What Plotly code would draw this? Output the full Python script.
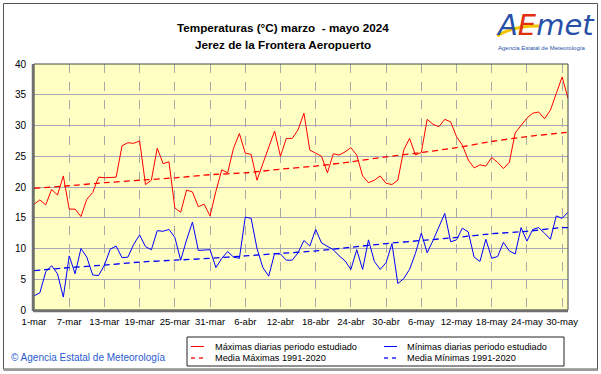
import pandas as pd
import plotly.graph_objects as go

# ---------------- data ----------------
dates = pd.date_range("2024-03-01", "2024-05-31", freq="D")

tmax = [17.2, 17.9, 17.1, 19.6, 18.7, 21.8, 16.4, 16.4, 15.2, 18.0,
        19.1, 21.6, 21.5, 21.5, 21.6, 26.7, 27.2, 27.1, 27.5, 20.4,
        21.1, 26.3, 23.8, 24.1, 16.6, 15.9, 19.5, 19.2, 16.8, 17.2,
        15.3, 19.3, 22.8, 22.3, 26.3, 28.7, 25.5, 25.3, 21.1, 23.8,
        26.6, 29.1, 25.0, 27.9, 27.9, 29.3, 32.0, 26.0, 25.5, 25.0,
        22.3, 25.4, 25.2, 25.7, 26.4, 25.2, 21.8, 20.7, 21.1, 21.8,
        20.6, 20.4, 21.1, 26.0, 27.9, 25.2, 25.6, 31.0, 30.2, 29.8,
        31.0, 30.6, 28.2, 26.8, 24.4, 23.1, 23.6, 23.4, 24.8, 24.0,
        23.0, 24.0, 28.8, 30.1, 31.2, 32.0, 32.2, 31.1, 32.5, 35.2,
        37.9, 34.4]

tmin = [2.3, 2.8, 6.2, 7.2, 5.9, 2.1, 8.8, 5.9, 10.0, 8.6,
        5.7, 5.6, 7.3, 9.9, 10.4, 8.5, 8.6, 10.7, 12.2, 10.3,
        9.8, 12.9, 12.8, 13.1, 11.8, 8.1, 11.4, 14.3, 9.7, 9.8,
        9.8, 6.9, 8.4, 9.5, 8.6, 8.4, 15.1, 14.9, 10.0, 6.9,
        5.5, 9.2, 9.1, 8.1, 8.1, 9.3, 11.3, 10.4, 13.1, 10.9,
        10.4, 9.8, 8.8, 8.0, 6.6, 9.8, 6.6, 11.4, 7.9, 6.6,
        7.7, 10.8, 4.3, 5.1, 6.6, 9.2, 12.5, 9.3, 11.3, 13.6,
        15.7, 11.1, 11.4, 13.3, 12.7, 8.6, 7.9, 11.5, 8.4, 8.7,
        11.0, 9.6, 9.1, 13.4, 11.2, 13.1, 13.4, 12.5, 11.5, 15.3,
        14.9, 15.9]

# climatological normals 1991-2020 read at the tick days
normal_days = ["2024-03-01", "2024-03-07", "2024-03-13", "2024-03-19", "2024-03-25",
               "2024-03-31", "2024-04-06", "2024-04-12", "2024-04-18", "2024-04-24",
               "2024-04-30", "2024-05-06", "2024-05-12", "2024-05-18", "2024-05-24",
               "2024-05-30", "2024-05-31"]
normal_max = [19.8, 20.2, 20.7, 21.1, 21.5, 22.0, 22.3, 22.9, 23.4, 24.1,
              24.9, 25.6, 26.4, 27.4, 28.2, 28.8, 28.9]
normal_min = [6.4, 6.9, 7.3, 7.8, 8.1, 8.4, 8.8, 9.2, 9.6, 10.2,
              10.8, 11.3, 11.8, 12.4, 12.8, 13.4, 13.4]

tick_vals = normal_days[:-1]
tick_text = ["1-mar", "7-mar", "13-mar", "19-mar", "25-mar", "31-mar", "6-abr",
             "12-abr", "18-abr", "24-abr", "30-abr", "6-may", "12-may", "18-may",
             "24-may", "30-may"]

series_names = ["Máximas diarias periodo estudiado", "Mínimas diarias periodo estudiado",
                "Media Máximas 1991-2020", "Media Mínimas 1991-2020"]

# ---------------- figure ----------------
RED = "#ff0000"
BLUE = "#0000ff"
FONT = "Liberation Sans, Arial, sans-serif"
DASH = "6px,4px"

fig = go.Figure()
fig.add_trace(go.Scatter(x=dates, y=tmax, mode="lines", name=series_names[0],
                         line=dict(color=RED, width=1)))
fig.add_trace(go.Scatter(x=dates, y=tmin, mode="lines", name=series_names[1],
                         line=dict(color=BLUE, width=1)))
fig.add_trace(go.Scatter(x=pd.to_datetime(normal_days), y=normal_max, mode="lines",
                         name=series_names[2],
                         line=dict(color=RED, width=1.3, dash=DASH, shape="spline", smoothing=0.6)))
fig.add_trace(go.Scatter(x=pd.to_datetime(normal_days), y=normal_min, mode="lines",
                         name=series_names[3],
                         line=dict(color=BLUE, width=1.3, dash=DASH, shape="spline", smoothing=0.6)))

L, R, T, B = 34, 568, 64, 310
W, H = 601, 374


def px(x):
    return (x - L) / (R - L)


def py(y):
    return (B - y) / (B - T)


fig.update_layout(
    width=W, height=H,
    margin=dict(l=L, r=W - R, t=T, b=H - B, pad=0),
    paper_bgcolor="white",
    plot_bgcolor="#ffffc4",
    font=dict(family=FONT, size=10, color="black"),
    showlegend=False,
    hovermode=False,
    xaxis=dict(
        range=["2024-03-01", "2024-05-31"], automargin=False,
        tickmode="array", tickvals=tick_vals, ticktext=tick_text, tickangle=0,
        showgrid=True, gridcolor="#a8a8a8", griddash="dash", gridwidth=1,
        ticks="outside", ticklen=3, tickcolor="rgba(0,0,0,0)",
        tickfont=dict(family=FONT, size=9.5, color="black"),
        showline=False, zeroline=False,
    ),
    yaxis=dict(
        range=[0, 40], tickmode="linear", tick0=0, dtick=5, automargin=False,
        showgrid=True, gridcolor="#a8a8b8", gridwidth=1,
        ticks="outside", ticklen=5, tickcolor="rgba(0,0,0,0)",
        tickfont=dict(family=FONT, size=10, color="black"),
        showline=False, zeroline=False,
    ),
)

shapes = [
    # outer frame
    dict(type="rect", xref="paper", yref="paper", x0=px(3.5), x1=px(597.5), y0=py(369), y1=py(3.5),
         line=dict(color="#555555", width=1), layer="below"),
    dict(type="line", xref="paper", yref="paper", x0=px(3.5), x1=px(598), y0=py(370), y1=py(370),
         line=dict(color="#9a9a9a", width=2)),
    # plot frame
    dict(type="rect", xref="paper", yref="paper", x0=0, x1=1, y0=0, y1=1,
         line=dict(color="#3a4a3a", width=1)),
    dict(type="line", xref="paper", yref="paper", x0=px(33), x1=px(33), y0=py(311), y1=1,
         line=dict(color="#707070", width=2.5)),
    dict(type="line", xref="paper", yref="paper", x0=px(33), x1=1, y0=py(311), y1=py(311),
         line=dict(color="#707070", width=2.5)),
    # logo swoosh
    dict(type="path", xref="paper", yref="paper",
         path=f"M {px(497)},{py(36)} Q {px(515)},{py(25)} {px(540)},{py(26)}",
         line=dict(color="#f5c400", width=3)),
    # legend box
    dict(type="rect", xref="paper", yref="paper", x0=px(187), x1=px(564), y0=py(366), y1=py(337),
         line=dict(color="#222222", width=1), fillcolor="white"),
]

# legend entries (manual, to match the compact original legend)
legend_items = [
    (series_names[0], RED, "solid", 191, 213, 346.5),
    (series_names[1], BLUE, "solid", 384, 405, 346.5),
    (series_names[2], RED, "dash", 191, 213, 358),
    (series_names[3], BLUE, "dash", 384, 405, 358),
]
annotations = []
for name, col, style, lx, tx, ty in legend_items:
    if style == "solid":
        shapes.append(dict(type="line", xref="paper", yref="paper", x0=px(lx), x1=px(lx + 13),
                           y0=py(ty), y1=py(ty), line=dict(color=col, width=1)))
    else:
        for k in range(2):
            shapes.append(dict(type="line", xref="paper", yref="paper",
                               x0=px(lx + k * 8), x1=px(lx + k * 8 + 4),
                               y0=py(ty), y1=py(ty), line=dict(color=col, width=1.3)))
    annotations.append(dict(text=name, x=px(tx), y=py(ty), xref="paper", yref="paper",
                            showarrow=False, xanchor="left", yanchor="middle",
                            font=dict(family=FONT, size=9.2, color="black")))

fig.update_layout(shapes=shapes)

annotations += [
    dict(text="<b>Temperaturas (°C) marzo  - mayo 2024</b>", x=px(283), y=py(27),
         xref="paper", yref="paper", showarrow=False, xanchor="center", yanchor="middle",
         font=dict(family=FONT, size=11.7, color="black")),
    dict(text="<b>Jerez de la Frontera Aeropuerto</b>", x=px(283), y=py(44),
         xref="paper", yref="paper", showarrow=False, xanchor="center", yanchor="middle",
         font=dict(family=FONT, size=11.7, color="black")),
    dict(text="<i>A<span style='color:#e03010'>E</span>met</i>", x=px(545), y=py(25),
         xref="paper", yref="paper", showarrow=False, xanchor="center", yanchor="middle",
         font=dict(family="DejaVu Sans, sans-serif", size=29, color="#2850a8")),
    dict(text="Agencia Estatal de Meteorología", x=px(541), y=py(48),
         xref="paper", yref="paper", showarrow=False, xanchor="center", yanchor="middle",
         font=dict(family=FONT, size=6, color="#2850a8")),
    dict(text="© Agencia Estatal de Meteorología", x=px(9), y=py(357),
         xref="paper", yref="paper", showarrow=False, xanchor="left", yanchor="middle",
         font=dict(family=FONT, size=10, color="#2a5bd0")),
]
fig.update_layout(annotations=annotations)

fig.write_html("out.html", config={"displayModeBar": False, "staticPlot": True},
               post_script="document.body.style.margin='0';")
